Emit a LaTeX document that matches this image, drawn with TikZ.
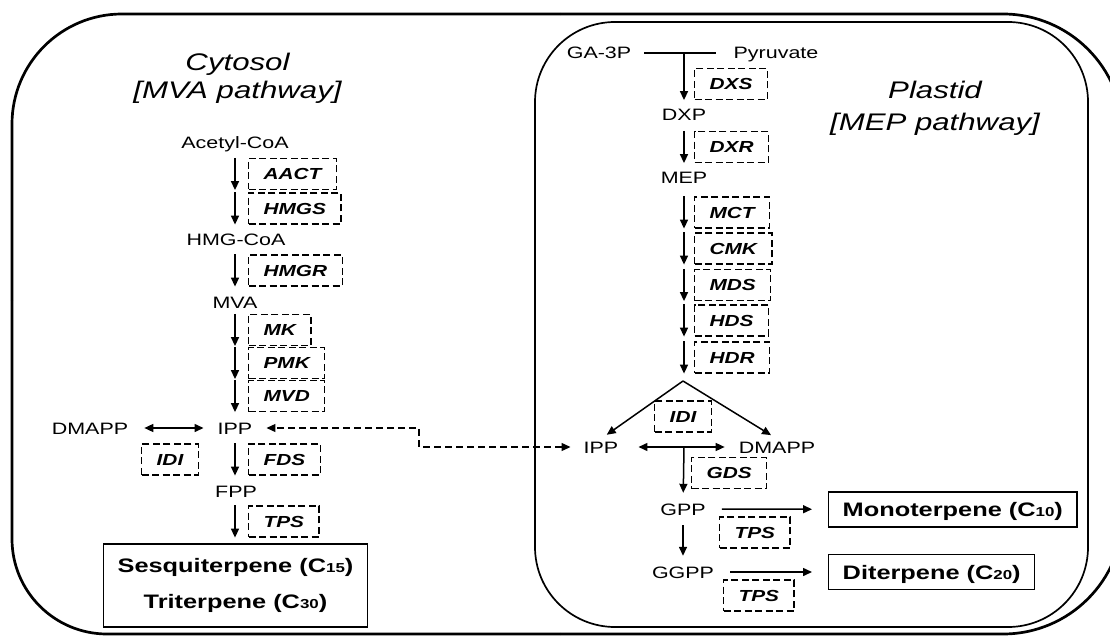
\documentclass[tikz,border=0pt]{standalone}
\usepackage{fontspec}
\setmainfont{Liberation Sans}[FakeStretch=1.3]
\usetikzlibrary{arrows.meta}
\newcommand{\cn}[1]{{\fontsize{13}{13}\selectfont #1}}
\begin{document}
\begin{tikzpicture}[x=1pt, y=-1pt,
    met/.style={inner sep=2pt, text height=12pt, text depth=0pt, font=\fontsize{16.5}{20}\selectfont},
    enz/.style={draw, dash pattern=on 7pt off 3.5pt, line width=1.2pt, minimum height=31pt,
        inner xsep=15pt, inner ysep=0pt, text height=11.5pt, text depth=0pt,
        font=\fontsize{16}{20}\selectfont\bfseries\itshape},
    prod/.style={draw, line width=1.4pt, inner xsep=14pt, minimum height=35pt,
        font=\fontsize{19.5}{36}\selectfont\bfseries},
    ttl/.style={align=center, font=\fontsize{24}{28}\selectfont\itshape},
    rxn/.style={-{Triangle[length=9pt,width=8pt]}, line width=1.5pt},
    rxn2/.style={{Triangle[length=9pt,width=8pt]}-{Triangle[length=9pt,width=8pt]}, line width=1.5pt},
    shuttle/.style={rxn2, line width=1.3pt, dash pattern=on 7pt off 4pt},
    wall/.style={line width=2.7pt},
    ]
    \clip (0,0) rectangle (1110,636);

    % cell and plastid
    \draw[wall, rounded corners=110pt] (12,300) |- (560,14);
    \draw[wall, rounded corners=120pt] (560,14) -| (1123,300);
    \draw[wall, rounded corners=120pt] (1123,300) |- (560,634);
    \draw[wall, rounded corners=95pt] (560,634) -| (12,300);
    \draw[line width=1.7pt, rounded corners=80pt] (535,22) rectangle (1088,627);

    \node[ttl] (cyto) at (237.5,78) {Cytosol\\{[MVA pathway]}};
    \node[ttl, font=\fontsize{24}{32}\selectfont\itshape] (plast) at (935,108) {Plastid\\{[MEP pathway]}};

    % MVA pathway
    \node[met] (acetyl) at (235,143) {Acetyl-CoA};
    \node[met] (hmgcoa) at (236,240) {HMG-CoA};
    \node[met] (mva)    at (235,302) {MVA};
    \node[met] (ipp)    at (235,428) {IPP};
    \node[met] (dmapp)  at (90,428)  {DMAPP};
    \node[met] (fpp)    at (236,491) {FPP};
    \node[prod, minimum width=263pt, minimum height=83pt, align=center] (sesqui) at (235.5,585.5)
        {Sesquiterpene (C\cn{15})\\Triterpene (C\cn{30})};

    \foreach \n/\t/\y in {aact/AACT/174, hmgs/HMGS/208.5, hmgr/HMGR/270.5, mk/MK/330,
                          pmk/PMK/363, mvd/MVD/396, fds/FDS/459.5, tpsC/TPS/521.5}
    {
        \node[enz, anchor=west] (\n) at (248,\y) {\t};
        \draw[rxn] (\n.north -| ipp) -- (\n.south -| ipp);
    }
    \node[enz] (idiC) at (170,459.5) {IDI};
    \draw[rxn2, shorten <=14pt, shorten >=12pt] (dmapp) -- (ipp);

    % MEP pathway
    \node[met] (ga3p)   at (599,53)  {GA-3P};
    \node[met] (pyr)    at (776,53)  {Pyruvate};
    \node[met] (dxp)    at (684,115) {DXP};
    \node[met] (mep)    at (684,178) {MEP};
    \node[met] (ippP)   at (601,447) {IPP};
    \node[met] (dmappP) at (777,447) {DMAPP};
    \node[met] (gpp)    at (683,509) {GPP};
    \node[met] (ggpp)   at (683,572) {GGPP};
    \node[prod, anchor=west, text height=14pt, text depth=0pt] (mono) at (828,509.5) {Monoterpene (C\cn{10})};
    \node[prod, anchor=west, text height=14pt, text depth=0pt] (dite) at (828,572) {Diterpene (C\cn{20})};

    \node[enz, anchor=west] (dxs) at (694,84) {DXS};
    \draw[line width=1.5pt, shorten <=11pt, shorten >=15pt] (ga3p) -- (pyr);
    \draw[rxn] (ga3p -| dxp) -- (dxs.south -| dxp);
    \foreach \n/\t/\y in {dxr/DXR/147, mct/MCT/212.5, cmk/CMK/248.5, mds/MDS/285,
                          hds/HDS/320.5, hdr/HDR/357.5}
    {
        \node[enz, anchor=west] (\n) at (694,\y) {\t};
        \draw[rxn] (\n.north -| dxp) -- (\n.south -| dxp);
    }
    \coordinate (apex) at (683,381);
    \draw[rxn, shorten >=7pt] (apex) -- (ippP.north);
    \draw[rxn, shorten >=7pt] (apex) -- (dmappP.north);
    \node[enz] (idiP) at (683,416.5) {IDI};
    \draw[rxn2, shorten <=18pt, shorten >=12pt] (ippP) -- (dmappP);

    \node[enz, anchor=west] (gds) at (691,473) {GDS};
    \draw[rxn, shorten >=8pt] (ippP -| dxp) -- (gpp);
    \draw[rxn, shorten <=8pt, shorten >=8pt] (gpp) -- (ggpp);
    \node[enz, anchor=west] (tpsM) at (719,532.5) {TPS};
    \draw[rxn, shorten <=14pt, shorten >=16pt] (gpp) -- (mono);
    \node[enz, anchor=west] (tpsD) at (723,595.5) {TPS};
    \draw[rxn, shorten <=14pt, shorten >=16pt] (ggpp) -- (dite);

    % IPP exchange
    \coordinate (bend) at (419,437);
    \draw[shuttle, shorten <=11pt, shorten >=12pt] (ippP.west) -| (bend) |- (ipp.east);
\end{tikzpicture}
\end{document}
